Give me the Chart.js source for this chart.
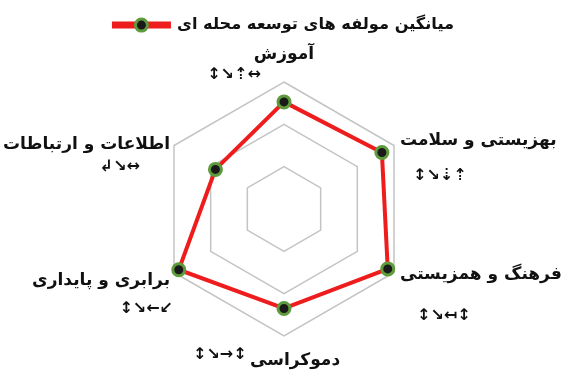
<!DOCTYPE html>
<html><head><meta charset="utf-8">
<script src="https://cdn.jsdelivr.net/npm/chart.js@4/dist/chart.umd.min.js"></script>
<style>html,body{margin:0;padding:0;background:#fff}#w{width:563px;height:374px}</style>
</head><body><div id="w"><canvas id="c"></canvas></div>
<script>
const categories = ["آموزش", "بهزیستی و سلامت", "فرهنگ و همزیستی", "دموکراسی", "برابری و پایداری", "اطلاعات و ارتباطات"];
const valueTags = ["↕↘⇡↔", "↕↘⇣⇡", "↕↘↤↕", "↕↘→↕", "↕↘←↙", "↲↘↔"];
const seriesName = "میانگین مولفه های توسعه محله ای";
const seriesValues = [2.53, 2.67, 2.83, 2.35, 2.87, 1.87];
const tickMin = 0, tickMax = 3, tickStep = 1;

// label placement relative to each axis end: [align, dx, dy] for name line and tag line
const labelLayout = [
  { name: ['center', 0, -27], tag: ['center', -50, -7] },
  { name: ['left', 6, -5],    tag: ['left', 19, 30] },
  { name: ['left', 6, 2],     tag: ['left', 23, 43] },
  { name: ['left', -34, 25],  tag: ['left', -91, 19] },
  { name: ['right', -4, 8],   tag: ['right', -1, 36] },
  { name: ['right', -4, -1],  tag: ['right', -34, 21] }
];
const legendBlockHeight = 82;

const customDraw = {
  id: 'customDraw',
  beforeLayout(chart) {
    const lg = chart.legend;
    if (lg && !lg._wrappedFit) {
      const f = lg.fit;
      lg.fit = function () { f.call(this); this.height = Math.max(this.height, legendBlockHeight); };
      lg._wrappedFit = true;
    }
  },
  afterDraw(chart) {
    const ctx = chart.ctx;
    const lg = chart.legend;
    if (lg && lg.legendHitBoxes && lg.legendHitBoxes.length) {
      const hb = lg.legendHitBoxes[0];
      const bw = lg.options.labels.boxWidth;
      const x = hb.left + bw / 2, y = hb.top + hb.height / 2;
      ctx.save();
      ctx.beginPath(); ctx.arc(x, y, 6, 0, Math.PI * 2);
      ctx.fillStyle = '#1a1a1a'; ctx.fill();
      ctx.lineWidth = 3; ctx.strokeStyle = '#5e9b3c'; ctx.stroke();
      ctx.restore();
    }
    const scale = chart.scales.r;
    ctx.save();
    ctx.fillStyle = '#111';
    ctx.textBaseline = 'middle';
    categories.forEach((c, i) => {
      const p = scale.getPointPosition(i, scale.drawingArea);
      const L = labelLayout[i];
      ctx.font = 'bold 17px "DejaVu Sans"';
      ctx.textAlign = L.name[0];
      ctx.fillText(c, p.x + L.name[1], p.y + L.name[2]);
      ctx.font = 'bold 16px "DejaVu Sans"';
      ctx.textAlign = L.tag[0];
      ctx.fillText(valueTags[i], p.x + L.tag[1], p.y + L.tag[2]);
    });
    ctx.restore();
  }
};

new Chart(document.getElementById('c'), {
  type: 'radar',
  data: {
    labels: categories,
    datasets: [{
      label: seriesName,
      data: seriesValues,
      borderColor: '#ee1c1c',
      backgroundColor: '#ee1c1c',
      borderWidth: 4,
      fill: false,
      pointRadius: 6,
      pointBorderWidth: 3,
      pointBackgroundColor: '#1a1a1a',
      pointBorderColor: '#5e9b3c'
    }]
  },
  options: {
    responsive: true,
    maintainAspectRatio: false,
    animation: false,
    layout: { padding: { top: 0, bottom: 38, left: 5, right: 0 } },
    plugins: {
      legend: {
        position: 'top',
        labels: {
          boxWidth: 55, boxHeight: 3,
          font: { family: 'DejaVu Sans', size: 16.2, weight: 'bold' },
          color: '#111',
          padding: 17
        }
      },
      tooltip: { enabled: false }
    },
    scales: {
      r: {
        min: tickMin, max: tickMax,
        ticks: { stepSize: tickStep, display: false },
        angleLines: { display: false },
        grid: { color: '#c4c4c4', lineWidth: 1.5 },
        pointLabels: { display: false }
      }
    }
  },
  plugins: [customDraw]
});
</script>
</body></html>
